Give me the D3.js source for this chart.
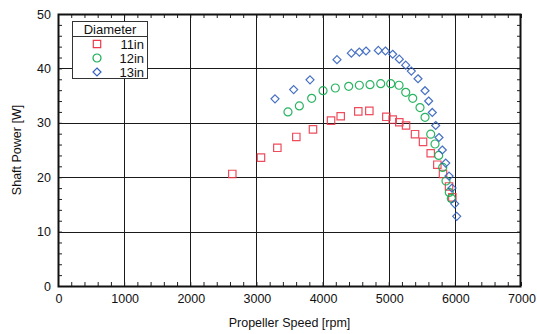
<!DOCTYPE html>
<html>
<head>
<meta charset="utf-8">
<script src="https://cdn.jsdelivr.net/npm/d3@7"></script>
<style>
	body { margin: 0; background: #fff; }
	#canvas { width: 537px; height: 334px; }
	text { font-family: 'Liberation Sans', Arial, sans-serif; fill: #111; }
</style>
</head>
<body>
<div id="canvas"></div>
<script>
// rpm / shaft power readings per propeller diameter
const speed11 = [2635, 3069, 3316, 3603, 3855, 4128, 4274, 4540, 4707, 4964, 5060, 5160, 5262, 5398, 5519, 5635, 5735, 5821, 5912, 5962];
const power11 = [20.6, 23.6, 25.4, 27.4, 28.8, 30.4, 31.2, 32.1, 32.2, 31.1, 30.6, 30.1, 29.5, 27.9, 26.5, 24.4, 22.3, 20.6, 18.3, 16.3];

const speed12 = [3477, 3649, 3835, 4007, 4193, 4395, 4556, 4717, 4879, 5030, 5156, 5257, 5363, 5473, 5549, 5635, 5700, 5756, 5816, 5866, 5916, 5947];
const power12 = [32.0, 33.1, 34.5, 35.9, 36.4, 36.7, 36.9, 37.0, 37.2, 37.2, 36.9, 35.6, 34.5, 32.8, 31.0, 27.9, 26.1, 24.0, 21.8, 19.3, 17.2, 16.1];

const speed13 = [3281, 3563, 3810, 4218, 4435, 4556, 4657, 4843, 4950, 5060, 5160, 5257, 5342, 5443, 5549, 5604, 5659, 5710, 5760, 5810, 5862, 5912, 5957, 5998, 6028];
const power13 = [34.4, 36.1, 37.9, 41.6, 42.8, 43.0, 43.2, 43.3, 43.2, 42.6, 41.7, 40.6, 39.5, 38.1, 35.9, 34.0, 31.9, 29.5, 27.3, 25.0, 22.6, 20.2, 18.0, 15.1, 12.8];

const seriesNames = ['11in', '12in', '13in'];
const xTicks = [0, 1000, 2000, 3000, 4000, 5000, 6000, 7000];
const yTicks = [0, 10, 20, 30, 40, 50];

const chart = {
	width: 537,
	height: 334,
	margins: { top: 14, right: 16, bottom: 48, left: 58 },
	colors: ['#ee3a4c', '#14ad52', '#3462bd'],
	shapes: ['square', 'circle', 'diamond'],
};

drawChart();

function drawChart() {
	const { width, height, margins, colors, shapes } = chart;
	const series = [
		{ name: seriesNames[0], pts: speed11.map((s, i) => [s, power11[i]]) },
		{ name: seriesNames[1], pts: speed12.map((s, i) => [s, power12[i]]) },
		{ name: seriesNames[2], pts: speed13.map((s, i) => [s, power13[i]]) },
	];

	const svg = d3.select('#canvas').append('svg').attr('width', width).attr('height', height);

	const x = d3.scaleLinear().domain([0, 7000]).range([margins.left, width - margins.right]);
	const y = d3.scaleLinear().domain([0, 50]).range([height - margins.bottom, margins.top]);
	const [x0, x1] = x.range();
	const [y0, y1] = y.range();

	// grid
	const grid = svg.append('g').attr('stroke', '#1a1a1a').attr('stroke-width', 1.3).attr('shape-rendering', 'crispEdges');
	grid.selectAll('line.v').data(xTicks.slice(1, -1)).join('line')
		.attr('x1', d => Math.round(x(d)) + 0.5).attr('x2', d => Math.round(x(d)) + 0.5)
		.attr('y1', y1).attr('y2', y0);
	grid.selectAll('line.h').data(yTicks.slice(1, -1)).join('line')
		.attr('y1', d => Math.round(y(d)) + 0.5).attr('y2', d => Math.round(y(d)) + 0.5)
		.attr('x1', x0).attr('x2', x1);

	// axes with inward minor ticks on all four sides
	const xMinor = d3.range(0, 7001, 200);
	const yMinor = d3.range(0, 51, 2);
	svg.append('g').attr('transform', `translate(0,${y0})`)
		.call(d3.axisBottom(x).tickValues(xMinor).tickSize(-4).tickFormat(''));
	svg.append('g').attr('transform', `translate(0,${y1})`)
		.call(d3.axisTop(x).tickValues(xMinor).tickSize(-4).tickFormat(''));
	svg.append('g').attr('transform', `translate(${x0},0)`)
		.call(d3.axisLeft(y).tickValues(yMinor).tickSize(-4).tickFormat(''));
	svg.append('g').attr('transform', `translate(${x1},0)`)
		.call(d3.axisRight(y).tickValues(yMinor).tickSize(-4).tickFormat(''));
	svg.selectAll('.domain').remove();
	svg.selectAll('.tick line').attr('stroke', '#222');

	svg.append('rect')
		.attr('x', x0 + 0.5).attr('y', y1 + 0.5)
		.attr('width', x1 - x0 - 1).attr('height', y0 - y1)
		.attr('fill', 'none').attr('stroke', '#111').attr('stroke-width', 2);

	// tick labels
	svg.append('g').selectAll('text').data(xTicks).join('text')
		.attr('x', d => x(d) + 1).attr('y', y0 + 17)
		.attr('text-anchor', 'middle').attr('font-size', 12.5)
		.text(d => d);
	svg.append('g').selectAll('text').data(yTicks).join('text')
		.attr('x', x0 - 7).attr('y', d => y(d) + 4.5)
		.attr('text-anchor', 'end').attr('font-size', 12.5)
		.text(d => d);

	// axis titles
	svg.append('text')
		.attr('x', (x0 + x1) / 2).attr('y', 327)
		.attr('text-anchor', 'middle').attr('font-size', 12.5)
		.text('Propeller Speed [rpm]');
	svg.append('text')
		.attr('transform', `translate(21,${(y0 + y1) / 2}) rotate(-90)`)
		.attr('text-anchor', 'middle').attr('font-size', 12.5)
		.text('Shaft Power [W]');

	// markers
	const marks = svg.append('g').attr('fill', 'none').attr('stroke-width', 1.2);
	series.forEach((s, i) => {
		marks.append('g').attr('stroke', colors[i]).attr('opacity', 0.9)
			.selectAll('path').data(s.pts).join('path')
			.attr('transform', d => `translate(${x(d[0])},${y(d[1])})`)
			.attr('d', markerPath(shapes[i]));
	});

	// legend
	const lg = svg.append('g').attr('transform', 'translate(72,21)');
	lg.append('rect').attr('x', 0.5).attr('y', 0.5).attr('width', 75).attr('height', 57)
		.attr('fill', '#fff').attr('stroke', '#333').attr('stroke-width', 1);
	lg.append('line').attr('x1', 0.5).attr('x2', 75.5).attr('y1', 15.5).attr('y2', 15.5)
		.attr('stroke', '#333');
	lg.append('text').attr('x', 38).attr('y', 12.5).attr('text-anchor', 'middle')
		.attr('font-size', 13).text('Diameter');
	seriesNames.forEach((name, i) => {
		const cy = 23 + i * 14;
		lg.append('path').attr('transform', `translate(25,${cy})`)
			.attr('d', markerPath(shapes[i]))
			.attr('fill', 'none').attr('stroke', colors[i]).attr('stroke-width', 1.2);
		lg.append('text').attr('x', 72).attr('y', cy + 4.5).attr('text-anchor', 'end')
			.attr('font-size', 13).text(name);
	});
}

function markerPath(shape) {
	if (shape === 'square') return 'M-3.7,-3.7H3.7V3.7H-3.7Z';
	if (shape === 'circle') return 'M4,0A4,4 0 1,1 -4,0A4,4 0 1,1 4,0Z';
	return 'M0,-4L4,0L0,4L-4,0Z';
}
</script>
</body>
</html>
